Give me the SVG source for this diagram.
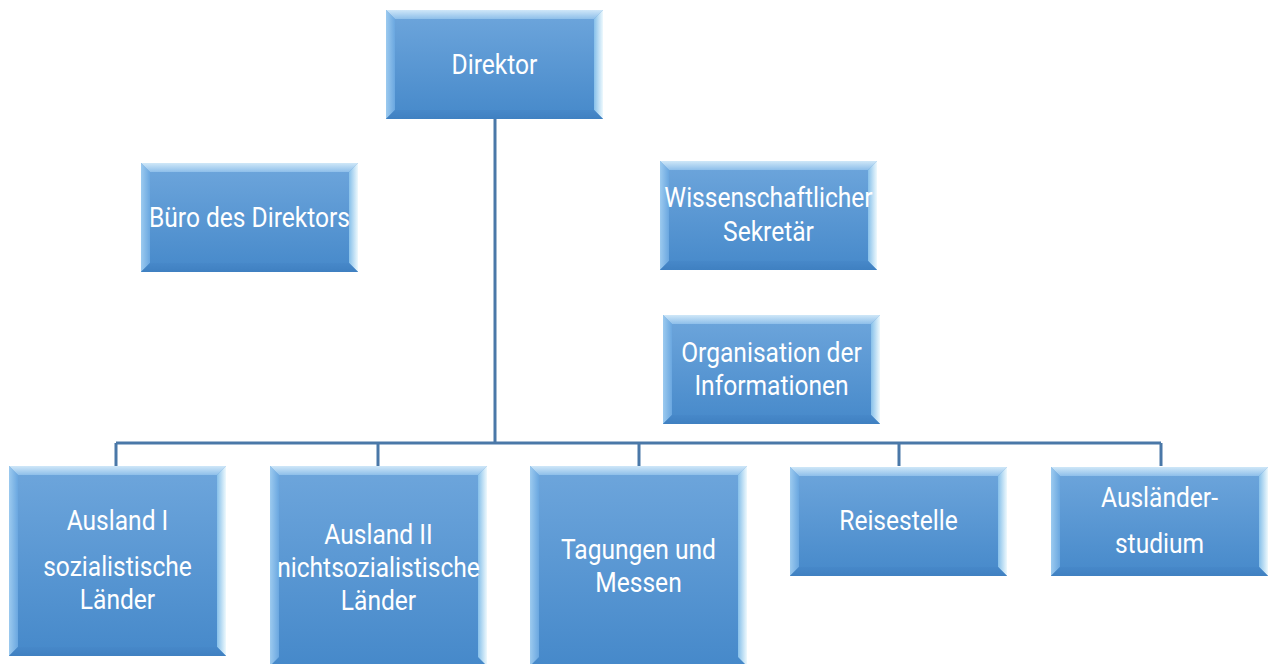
<svg xmlns="http://www.w3.org/2000/svg" width="1271" height="664" viewBox="0 0 1271 664">
<defs>
<linearGradient id="face" x1="0" y1="0" x2="0" y2="1">
<stop offset="0" stop-color="#6ea6dc"/>
<stop offset="1" stop-color="#4689ca"/>
</linearGradient>
<linearGradient id="topb" x1="0" y1="0" x2="0" y2="1">
<stop offset="0" stop-color="#cfe7f8"/>
<stop offset="1" stop-color="#8ebfea"/>
</linearGradient>
<linearGradient id="leftb" x1="0" y1="0" x2="1" y2="0">
<stop offset="0" stop-color="#9ccaef"/>
<stop offset="1" stop-color="#6aa7e0"/>
</linearGradient>
<linearGradient id="rightb" x1="1" y1="0" x2="0" y2="0">
<stop offset="0" stop-color="#eef9fd"/>
<stop offset="1" stop-color="#86c0ea"/>
</linearGradient>
<linearGradient id="botb" x1="0" y1="1" x2="0" y2="0">
<stop offset="0" stop-color="#3f80c1"/>
<stop offset="1" stop-color="#4788c9"/>
</linearGradient>
</defs>
<style>
.face{fill:url(#face)}
.tb{fill:url(#topb)}
.lb{fill:url(#leftb)}
.rb{fill:url(#rightb)}
.bb{fill:url(#botb)}
.t{font-family:"Roboto","Liberation Sans",sans-serif;font-size:27px;fill:#ffffff;text-anchor:middle}
.c{fill:none;stroke:#4a78a8;stroke-width:3}
</style>
<rect width="1271" height="664" fill="#ffffff"/>
<g id="connectors">
<path class="c" d="M495,119 V443 M116,443 H1161 M116,443 V466 M378,443 V466 M639,443 V466 M899,443 V466 M1161,443 V466"/>
</g>
<g id="direktor" transform="translate(386,10)">
<rect class="face" width="217" height="109"/>
<path class="tb" d="M0,0 H217 L208,9 H9 Z"/><path class="lb" d="M0,0 L9,9 V100 L0,109 Z"/><path class="rb" d="M217,0 V109 L208,100 V9 Z"/><path class="bb" d="M0,109 L9,100 H208 L217,109 Z"/>
<g transform="translate(108.5,0) scale(0.91,1)"><text class="t" x="0" y="64">Direktor</text></g>
</g>
<g id="buero" transform="translate(141,163)">
<rect class="face" width="217" height="109"/>
<path class="tb" d="M0,0 H217 L208,9 H9 Z"/><path class="lb" d="M0,0 L9,9 V100 L0,109 Z"/><path class="rb" d="M217,0 V109 L208,100 V9 Z"/><path class="bb" d="M0,109 L9,100 H208 L217,109 Z"/>
<g transform="translate(108.5,0) scale(0.91,1)"><text class="t" x="0" y="64">Büro des Direktors</text></g>
</g>
<g id="sekretaer" transform="translate(660,161)">
<rect class="face" width="217" height="109"/>
<path class="tb" d="M0,0 H217 L208,9 H9 Z"/><path class="lb" d="M0,0 L9,9 V100 L0,109 Z"/><path class="rb" d="M217,0 V109 L208,100 V9 Z"/><path class="bb" d="M0,109 L9,100 H208 L217,109 Z"/>
<g transform="translate(108.5,0) scale(0.91,1)"><text class="t" x="0" y="46">Wissenschaftlicher</text><text class="t" x="0" y="80">Sekretär</text></g>
</g>
<g id="organisation" transform="translate(663,315)">
<rect class="face" width="217" height="109"/>
<path class="tb" d="M0,0 H217 L208,9 H9 Z"/><path class="lb" d="M0,0 L9,9 V100 L0,109 Z"/><path class="rb" d="M217,0 V109 L208,100 V9 Z"/><path class="bb" d="M0,109 L9,100 H208 L217,109 Z"/>
<g transform="translate(108.5,0) scale(0.91,1)"><text class="t" x="0" y="47">Organisation der</text><text class="t" x="0" y="80">Informationen</text></g>
</g>
<g id="ausland1" transform="translate(9,466)">
<rect class="face" width="217" height="190"/>
<path class="tb" d="M0,0 H217 L208,9 H9 Z"/><path class="lb" d="M0,0 L9,9 V181 L0,190 Z"/><path class="rb" d="M217,0 V190 L208,181 V9 Z"/><path class="bb" d="M0,190 L9,181 H208 L217,190 Z"/>
<g transform="translate(108.5,0) scale(0.91,1)"><text class="t" x="0" y="64">Ausland I</text><text class="t" x="0" y="110">sozialistische</text><text class="t" x="0" y="143">Länder</text></g>
</g>
<g id="ausland2" transform="translate(270,466)">
<rect class="face" width="217" height="200"/>
<path class="tb" d="M0,0 H217 L208,9 H9 Z"/><path class="lb" d="M0,0 L9,9 V191 L0,200 Z"/><path class="rb" d="M217,0 V200 L208,191 V9 Z"/>
<g transform="translate(108.5,0) scale(0.91,1)"><text class="t" x="0" y="78">Ausland II</text><text class="t" x="0" y="111">nichtsozialistische</text><text class="t" x="0" y="144">Länder</text></g>
</g>
<g id="tagungen" transform="translate(530,466)">
<rect class="face" width="217" height="200"/>
<path class="tb" d="M0,0 H217 L208,9 H9 Z"/><path class="lb" d="M0,0 L9,9 V191 L0,200 Z"/><path class="rb" d="M217,0 V200 L208,191 V9 Z"/>
<g transform="translate(108.5,0) scale(0.91,1)"><text class="t" x="0" y="93">Tagungen und</text><text class="t" x="0" y="126">Messen</text></g>
</g>
<g id="reisestelle" transform="translate(790,467)">
<rect class="face" width="217" height="109"/>
<path class="tb" d="M0,0 H217 L208,9 H9 Z"/><path class="lb" d="M0,0 L9,9 V100 L0,109 Z"/><path class="rb" d="M217,0 V109 L208,100 V9 Z"/><path class="bb" d="M0,109 L9,100 H208 L217,109 Z"/>
<g transform="translate(108.5,0) scale(0.91,1)"><text class="t" x="0" y="63">Reisestelle</text></g>
</g>
<g id="auslaenderstudium" transform="translate(1051,467)">
<rect class="face" width="217" height="109"/>
<path class="tb" d="M0,0 H217 L208,9 H9 Z"/><path class="lb" d="M0,0 L9,9 V100 L0,109 Z"/><path class="rb" d="M217,0 V109 L208,100 V9 Z"/><path class="bb" d="M0,109 L9,100 H208 L217,109 Z"/>
<g transform="translate(108.5,0) scale(0.91,1)"><text class="t" x="0" y="40">Ausländer-</text><text class="t" x="0" y="86">studium</text></g>
</g>
</svg>
